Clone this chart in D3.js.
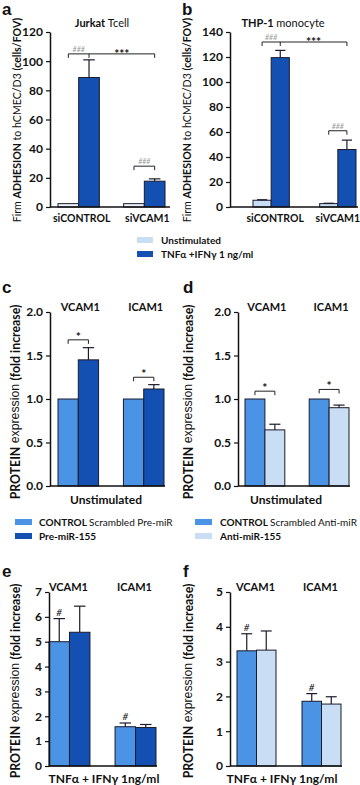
<!DOCTYPE html>
<html>
<head>
<meta charset="utf-8">
<script src="https://cdn.jsdelivr.net/npm/d3@7"></script>
<style>
  body { margin: 0; background: #fff; }
  svg { display: block; font-family: Lato, "Open Sans", sans-serif; }
</style>
</head>
<body>
<div id="fig"></div>
<script>
const LIGHT = "#c9ddf4", DARK = "#1450b2", MID = "#4b93e4";

// a, b : firm adhesion
const adhGroups = ["siCONTROL", "siVCAM1"];
const jurkatUnstim = [2.3, 2.3];
const jurkatUnstimErr = [0, 0];
const jurkatTnf = [88.8, 17.7];
const jurkatTnfErr = [12.1, 1.6];
const thpUnstim = [5.4, 2.7];
const thpUnstimErr = [0.4, 0.3];
const thpTnf = [119.5, 46];
const thpTnfErr = [5.8, 7.5];
const adhTicksA = [0, 20, 40, 60, 80, 100, 120];
const adhTicksB = [0, 20, 40, 60, 80, 100, 120, 140];

// c - f : protein expression
const protGroups = ["VCAM1", "ICAM1"];
const preCtrl = [1.0, 1.0];
const preCtrlErr = [0, 0];
const preMiR = [1.45, 1.115];
const preMiRErr = [0.14, 0.05];
const antiCtrl = [1.0, 1.0];
const antiCtrlErr = [0, 0];
const antiMiR = [0.645, 0.9];
const antiMiRErr = [0.065, 0.03];
const tnfPreCtrl = [5.0, 1.58];
const tnfPreCtrlErr = [0.93, 0.15];
const tnfPreMiR = [5.38, 1.55];
const tnfPreMiRErr = [1.05, 0.12];
const tnfAntiCtrl = [3.31, 1.86];
const tnfAntiCtrlErr = [0.49, 0.22];
const tnfAntiMiR = [3.33, 1.78];
const tnfAntiMiRErr = [0.55, 0.21];
const protTicksCD = [0, 0.5, 1.0, 1.5, 2.0];
const protTicksE = [0, 1, 2, 3, 4, 5, 6, 7];
const protTicksF = [0, 1, 2, 3, 4, 5];

const svg = d3.select("#fig").append("svg")
    .attr("width", 360)
    .attr("height", 785);

function drawPanel(cfg) {
    const g = svg.append("g");
    const x0 = d3.scaleBand().domain(cfg.groups).range(cfg.bars).paddingInner(cfg.pad);
    const x1 = d3.scaleBand().domain([0, 1]).range([0, x0.bandwidth()]);
    const y = d3.scaleLinear().domain([0, d3.max(cfg.ticks)]).range(cfg.yRange);

    cfg.series.forEach((s, si) => {
        cfg.groups.forEach((grp, gi) => {
            const bx = x0(grp) + x1(si);
            const bw = x1.bandwidth();
            g.append("rect")
                .attr("x", bx).attr("y", y(s.vals[gi]))
                .attr("width", bw).attr("height", y(0) - y(s.vals[gi]))
                .attr("fill", s.color)
                .attr("stroke", "#1b1b2b").attr("stroke-width", 1);
            const e = s.errs[gi];
            if (e > 0) {
                const cx = bx + bw / 2, cap = bw * 0.28;
                g.append("line")
                    .attr("x1", cx).attr("x2", cx)
                    .attr("y1", y(s.vals[gi])).attr("y2", y(s.vals[gi] + e))
                    .attr("stroke", "#1b1b2b").attr("stroke-width", 1.2);
                g.append("line")
                    .attr("x1", cx - cap).attr("x2", cx + cap)
                    .attr("y1", y(s.vals[gi] + e)).attr("y2", y(s.vals[gi] + e))
                    .attr("stroke", "#1b1b2b").attr("stroke-width", 1.2);
            }
        });
    });

    // y axis
    const ax = g.append("g")
        .attr("transform", `translate(${cfg.axisX},0)`)
        .call(d3.axisLeft(y).tickValues(cfg.ticks).tickSize(4).tickSizeOuter(0).tickFormat(cfg.fmt));
    ax.select(".domain").attr("stroke", "#111").attr("stroke-width", 1.5);
    ax.selectAll(".tick line").attr("stroke", "#111").attr("stroke-width", 1.2);
    ax.selectAll("text")
        .attr("font-family", "Lato, sans-serif")
        .attr("font-weight", "bold")
        .attr("font-size", 12)
        .attr("fill", "#111");

    // x axis line
    g.append("line")
        .attr("x1", cfg.axisX).attr("x2", cfg.axisEnd)
        .attr("y1", y(0)).attr("y2", y(0))
        .attr("stroke", "#111").attr("stroke-width", 1.5);

    const center = (grp, si) => x0(grp) + x1(si) + x1.bandwidth() / 2;
    return { g, x0, x1, y, center };
}

function bracket(p, xs, val, drop) {
    const yy = p.y(val);
    let d = `M${xs[0]},${yy + drop}V${yy}H${xs[xs.length - 1]}V${yy + drop}`;
    for (let i = 1; i < xs.length - 1; i++) d += `M${xs[i]},${yy}V${yy + drop}`;
    p.g.append("path").attr("d", d).attr("fill", "none")
        .attr("stroke", "#222").attr("stroke-width", 1);
    return yy;
}

function text(x, y, parts, size, anchor, rotate) {
    const t = svg.append("text")
        .attr("font-size", size)
        .attr("text-anchor", anchor || "middle")
        .attr("fill", "#111");
    if (rotate) t.attr("transform", `translate(${x},${y}) rotate(-90)`);
    else t.attr("x", x).attr("y", y);
    parts.forEach(pt => {
        t.append("tspan")
            .attr("font-weight", pt[1] ? "bold" : "normal")
            .attr("font-family", pt[2] || null)
            .text(pt[0]);
    });
    return t;
}

const adhLabel = [["Firm ", false], ["ADHESION", true], [" to hCMEC/D3 ", false], [" (cells/FOV)", true]];
const protLabel = [["PROTEIN", true], [" expression ", false, "Liberation Sans"], [" (fold increase)", true]];

// ---------- a ----------
const pa = drawPanel({
    groups: adhGroups, bars: [58, 165], pad: 0.37, axisX: 50, axisEnd: 170,
    yRange: [207, 32], ticks: adhTicksA, fmt: d3.format("d"),
    series: [{ vals: jurkatUnstim, errs: jurkatUnstimErr, color: "#eef3fa" },
             { vals: jurkatTnf, errs: jurkatTnfErr, color: DARK }]
});
let by = bracket(pa, [pa.center("siCONTROL", 0), pa.center("siCONTROL", 1), pa.center("siVCAM1", 1)], 105, 4);
text((pa.center("siCONTROL", 0) + pa.center("siCONTROL", 1)) / 2, by - 2, [["###", false]], 7).attr("fill", "#999").attr("font-style", "italic");
text((pa.center("siCONTROL", 1) + pa.center("siVCAM1", 1)) / 2, by + 4, [["***", true]], 12);
by = bracket(pa, [pa.center("siVCAM1", 0), pa.center("siVCAM1", 1)], 28, 4);
text((pa.center("siVCAM1", 0) + pa.center("siVCAM1", 1)) / 2, by - 2, [["###", false]], 7).attr("fill", "#999").attr("font-style", "italic");
adhGroups.forEach(gr => text(pa.x0(gr) + pa.x0.bandwidth() / 2 + 3, 222, [[gr, true]], 10.5));
text(102, 27, [["Jurkat ", true], ["Tcell", false]], 11);
text(17, 120, adhLabel, 10.6, "middle", true).attr("dominant-baseline", "central");
text(2, 15, [["a", true, "Liberation Sans"]], 17, "start");

// ---------- b ----------
const pb = drawPanel({
    groups: adhGroups, bars: [253, 356], pad: 0.455, axisX: 230, axisEnd: 358,
    yRange: [207, 32], ticks: adhTicksB, fmt: d3.format("d"),
    series: [{ vals: thpUnstim, errs: thpUnstimErr, color: LIGHT },
             { vals: thpTnf, errs: thpTnfErr, color: DARK }]
});
by = bracket(pb, [pb.center("siCONTROL", 0), pb.center("siCONTROL", 1), pb.center("siVCAM1", 1)], 132, 4);
text((pb.center("siCONTROL", 0) + pb.center("siCONTROL", 1)) / 2, by - 2, [["###", false]], 7).attr("fill", "#999").attr("font-style", "italic");
text((pb.center("siCONTROL", 1) + pb.center("siVCAM1", 1)) / 2, by + 4, [["***", true]], 12);
by = bracket(pb, [pb.center("siVCAM1", 0), pb.center("siVCAM1", 1)], 61, 4);
text((pb.center("siVCAM1", 0) + pb.center("siVCAM1", 1)) / 2, by - 2, [["###", false]], 7).attr("fill", "#999").attr("font-style", "italic");
adhGroups.forEach((gr, i) => text(pb.x0(gr) + pb.x0.bandwidth() / 2 + (i ? 0 : 4), 222, [[gr, true]], 10.5));
text(283, 27, [["THP-1 ", true], ["monocyte", false]], 11);
text(187, 120, adhLabel, 10.6, "middle", true).attr("dominant-baseline", "central");
text(182, 15, [["b", true, "Liberation Sans"]], 17, "start");

// legend a/b
const legAB = [["Unstimulated", LIGHT], ["TNFα +IFNγ 1 ng/ml", DARK]];
legAB.forEach((l, i) => {
    svg.append("rect").attr("x", 137).attr("y", 237 + i * 14).attr("width", 16).attr("height", 6).attr("fill", l[1]);
    text(161, 243.5 + i * 14, [[l[0], true]], 10, "start");
});

// ---------- c ----------
const pc = drawPanel({
    groups: protGroups, bars: [58, 164], pad: 0.38, axisX: 50, axisEnd: 165,
    yRange: [486, 312], ticks: protTicksCD, fmt: d3.format(".1f"),
    series: [{ vals: preCtrl, errs: preCtrlErr, color: MID },
             { vals: preMiR, errs: preMiRErr, color: DARK }]
});
[[1.68, "VCAM1"], [1.25, "ICAM1"]].forEach(b => {
    const yy = bracket(pc, [pc.center(b[1], 0), pc.center(b[1], 1)], b[0], 4);
    text((pc.center(b[1], 0) + pc.center(b[1], 1)) / 2, yy + 1, [["*", true]], 12);
});
protGroups.forEach(gr => text(pc.x0(gr) + pc.x0.bandwidth() / 2 + 2, 311, [[gr, true]], 11));
text(106, 504, [["Unstimulated", true]], 12);
text(15, 402, protLabel, 12.3, "middle", true).attr("dominant-baseline", "central");
text(2, 293, [["c", true, "Liberation Sans"]], 17, "start");

// ---------- d ----------
const pd = drawPanel({
    groups: protGroups, bars: [245, 349], pad: 0.38, axisX: 238, axisEnd: 350,
    yRange: [486, 312], ticks: protTicksCD, fmt: d3.format(".1f"),
    series: [{ vals: antiCtrl, errs: antiCtrlErr, color: MID },
             { vals: antiMiR, errs: antiMiRErr, color: LIGHT }]
});
[[1.09, "VCAM1"], [1.11, "ICAM1"]].forEach(b => {
    const yy = bracket(pd, [pd.center(b[1], 0), pd.center(b[1], 1)], b[0], 4);
    text((pd.center(b[1], 0) + pd.center(b[1], 1)) / 2, yy + 1, [["*", true]], 12);
});
protGroups.forEach(gr => text(pd.x0(gr) + pd.x0.bandwidth() / 2 + 2, 311, [[gr, true]], 11));
text(286, 504, [["Unstimulated", true]], 12);
text(188, 402, protLabel, 12.3, "middle", true).attr("dominant-baseline", "central");
text(183, 293, [["d", true, "Liberation Sans"]], 17, "start");

// legend c / d
const legC = [[["CONTROL ", true], ["Scrambled Pre-miR", false]], [["Pre-miR-155", true]]];
const legD = [[["CONTROL ", true], ["Scrambled Anti-miR", false]], [["Anti-miR-155", true]]];
[MID, DARK].forEach((c, i) => {
    svg.append("rect").attr("x", 15).attr("y", 519 + i * 14).attr("width", 17).attr("height", 6).attr("fill", c);
    text(39, 526 + i * 14, legC[i], 10, "start");
});
[MID, LIGHT].forEach((c, i) => {
    svg.append("rect").attr("x", 195).attr("y", 519 + i * 14).attr("width", 17).attr("height", 6).attr("fill", c);
    text(220, 526 + i * 14, legD[i], 10, "start");
});

// ---------- e ----------
const pe = drawPanel({
    groups: protGroups, bars: [49, 156], pad: 0.38, axisX: 49, axisEnd: 157,
    yRange: [766, 592], ticks: protTicksE, fmt: d3.format("d"),
    series: [{ vals: tnfPreCtrl, errs: tnfPreCtrlErr, color: MID },
             { vals: tnfPreMiR, errs: tnfPreMiRErr, color: DARK }]
});
protGroups.forEach((gr, i) => {
    text(pe.center(gr, 0), pe.y(tnfPreCtrl[i] + tnfPreCtrlErr[i]) - 3, [["#", false]], 10).attr("font-style", "italic");
    text(pe.x0(gr) + pe.x0.bandwidth() / 2 - 1, 591, [[gr, true]], 11);
});
text(104, 783, [["TNFα  + IFNγ  1ng/ml", true]], 12);
text(15, 681, protLabel, 12.3, "middle", true).attr("dominant-baseline", "central");
text(2, 577, [["e", true, "Liberation Sans"]], 17, "start");

// ---------- f ----------
const pf = drawPanel({
    groups: protGroups, bars: [237, 341], pad: 0.4, axisX: 230, axisEnd: 342,
    yRange: [766, 592], ticks: protTicksF, fmt: d3.format("d"),
    series: [{ vals: tnfAntiCtrl, errs: tnfAntiCtrlErr, color: MID },
             { vals: tnfAntiMiR, errs: tnfAntiMiRErr, color: LIGHT }]
});
protGroups.forEach((gr, i) => {
    text(pf.center(gr, 0), pf.y(tnfAntiCtrl[i] + tnfAntiCtrlErr[i]) - 3, [["#", false]], 10).attr("font-style", "italic");
    text(pf.x0(gr) + pf.x0.bandwidth() / 2 - 1, 591, [[gr, true]], 11);
});
text(282, 783, [["TNFα  + IFNγ  1ng/ml", true]], 12);
text(188, 681, protLabel, 12.3, "middle", true).attr("dominant-baseline", "central");
text(183, 577, [["f", true, "Liberation Sans"]], 17, "start");
</script>
</body>
</html>
